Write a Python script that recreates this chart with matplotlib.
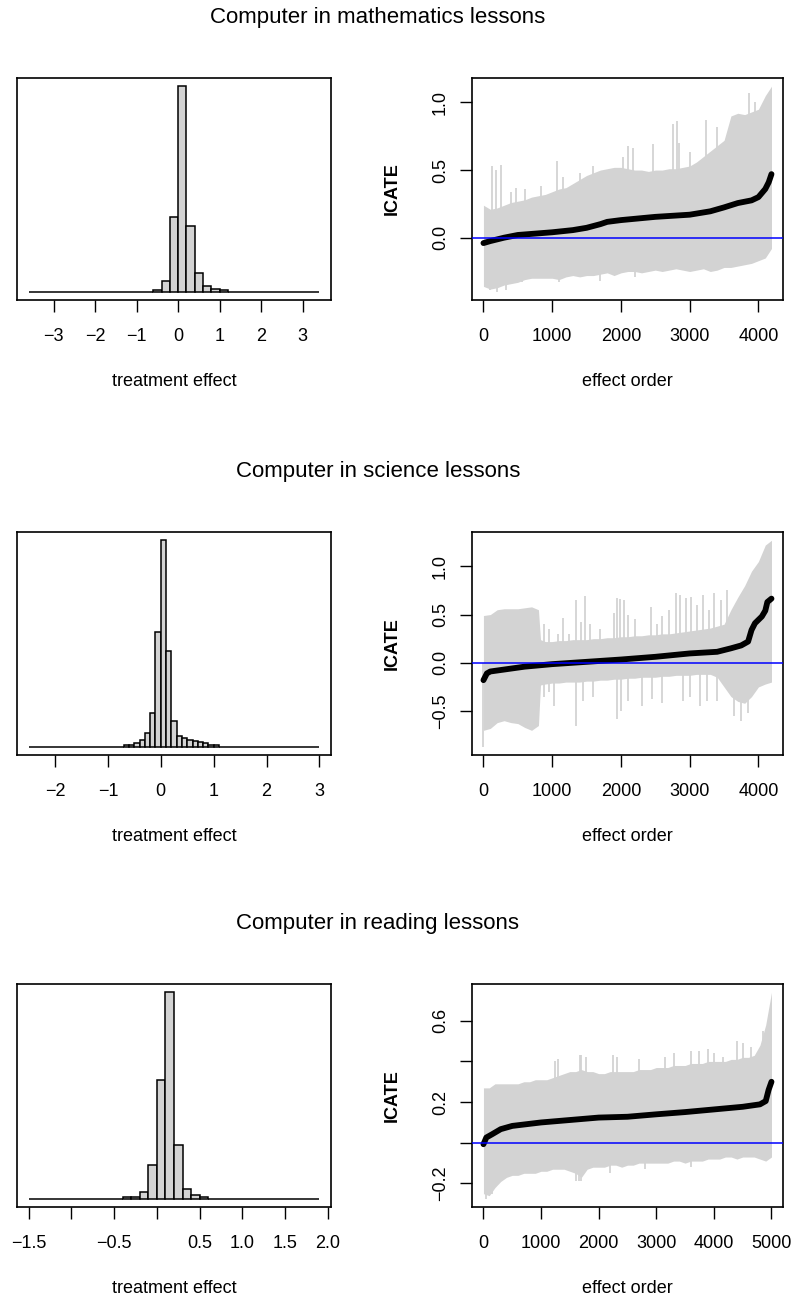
import numpy as np
import matplotlib
matplotlib.use("Agg")
import matplotlib.pyplot as plt

plt.rcParams['font.family'] = ['Liberation Sans', 'DejaVu Sans']
plt.rcParams['font.size'] = 13

GREY = '#d3d3d3'

titles = ['Computer in mathematics lessons',
          'Computer in science lessons',
          'Computer in reading lessons']

# ---- histograms of the treatment effects ----
math_breaks = np.round(np.arange(-3.6, 3.4001, 0.2), 2)
math_counts = [1, 0, 0, 0, 0, 0, 0, 0, 0, 0, 0, 0, 0, 0, 0,
               18, 118, 811, 2226, 711, 201, 65, 32, 18,
               0, 0, 0, 0, 0, 0, 0, 0, 0, 0, 1]

sci_breaks = np.round(np.arange(-2.5, 3.0001, 0.1), 2)
sci_counts = [1, 0, 0, 0, 0, 0, 0, 0, 0, 0, 0, 0, 0, 0, 0, 0, 0, 0,
              12, 12, 25, 50, 100, 252, 865, 1552, 720, 192, 82, 65, 52,
              42, 37, 25, 15, 12,
              0, 0, 0, 0, 0, 0, 0, 0, 0, 0, 0, 0, 0, 0, 0, 0, 0, 0, 1]

read_breaks = np.round(np.arange(-1.5, 1.9001, 0.1), 2)
read_counts = [1, 0, 0, 0, 0, 0, 0, 0, 0, 0, 0,
               19, 19, 80, 380, 1353, 2360, 619, 114, 38, 19,
               0, 0, 0, 0, 0, 0, 0, 0, 0, 0, 0, 0, 1]

math_xticks = [-3, -2, -1, 0, 1, 2, 3]
sci_xticks = [-2, -1, 0, 1, 2, 3]
read_xticks = [-1.5, -1.0, -0.5, 0.0, 0.5, 1.0, 1.5, 2.0]
read_xticklabels = ['-1.5', '', '-0.5', '', '0.5', '1.0', '1.5', '2.0']

# ---- sorted ICATE with interval bands ----
math_n = 4190
math_ord = [0, 100, 300, 500, 1000, 1300, 1500, 1700, 1800, 2000, 2500,
            3000, 3300, 3500, 3700, 3900, 4000, 4100, 4150, 4190]
math_icate = [-0.04, -0.025, 0.0, 0.02, 0.04, 0.056, 0.073, 0.10, 0.117,
              0.13, 0.154, 0.17, 0.195, 0.224, 0.256, 0.276, 0.30, 0.36,
              0.41, 0.47]
math_band_x = list(range(0, 4200, 100)) + [4190]
math_hi = [0.24, 0.21, 0.22, 0.24, 0.26, 0.27, 0.28, 0.30, 0.31, 0.32,
           0.34, 0.36, 0.37, 0.40, 0.43, 0.46, 0.48, 0.50, 0.51, 0.52,
           0.52, 0.51, 0.50, 0.50, 0.49, 0.50, 0.50, 0.51, 0.51, 0.52,
           0.53, 0.56, 0.60, 0.64, 0.68, 0.72, 0.90, 0.92, 0.91, 0.93,
           0.95, 1.05, 1.12]
math_lo = [-0.36, -0.38, -0.37, -0.35, -0.34, -0.33, -0.31, -0.30, -0.30,
           -0.30, -0.30, -0.31, -0.29, -0.28, -0.29, -0.28, -0.28, -0.27,
           -0.26, -0.28, -0.26, -0.25, -0.25, -0.26, -0.25, -0.24, -0.25,
           -0.24, -0.23, -0.24, -0.25, -0.24, -0.23, -0.25, -0.24, -0.22,
           -0.22, -0.21, -0.20, -0.19, -0.17, -0.15, -0.08]
math_up_x = [130, 180, 250, 400, 480, 600, 830, 1070, 1150, 1400, 1600,
             2030, 2100, 2180, 2470, 2760, 2820, 2850, 3000, 3240, 3400,
             3870, 3950]
math_up_y = [0.53, 0.50, 0.54, 0.34, 0.37, 0.36, 0.38, 0.57, 0.45, 0.48,
             0.53, 0.60, 0.68, 0.66, 0.69, 0.84, 0.86, 0.70, 0.63, 0.87,
             0.82, 1.07, 1.00]
math_dn_x = [100, 200, 330, 560, 1100, 1700, 2200]
math_dn_y = [-0.39, -0.40, -0.39, -0.33, -0.33, -0.32, -0.29]

sci_n = 4190
sci_ord = [0, 50, 100, 300, 600, 1000, 1500, 2000, 2500, 3000, 3400, 3600,
           3750, 3850, 3900, 3950, 4050, 4100, 4130, 4190]
sci_icate = [-0.18, -0.11, -0.09, -0.07, -0.04, -0.014, 0.01, 0.034, 0.062,
             0.097, 0.114, 0.15, 0.18, 0.22, 0.34, 0.41, 0.48, 0.54, 0.63,
             0.665]
sci_band_x = list(range(0, 900, 100)) + [830] + list(range(900, 4200, 100)) + [4190]
sci_band_x = sorted(sci_band_x)
sci_hi = [0.49, 0.50, 0.55, 0.56, 0.56, 0.56, 0.57, 0.58, 0.55, 0.24, 0.22,
          0.22, 0.23, 0.23, 0.24, 0.24, 0.24, 0.25, 0.25, 0.26, 0.26,
          0.27, 0.27, 0.28, 0.28, 0.29, 0.29, 0.30, 0.30, 0.31, 0.32,
          0.33, 0.34, 0.35, 0.36, 0.38, 0.40, 0.55, 0.68, 0.80, 0.95,
          1.05, 1.22, 1.27]
sci_lo = [-0.70, -0.68, -0.62, -0.60, -0.62, -0.63, -0.67, -0.70, -0.65,
          -0.23, -0.22, -0.21, -0.21, -0.20, -0.20, -0.20, -0.19, -0.19,
          -0.18, -0.18, -0.17, -0.17, -0.16, -0.16, -0.15, -0.15, -0.15,
          -0.14, -0.14, -0.13, -0.13, -0.13, -0.12, -0.12, -0.12, -0.15,
          -0.25, -0.35, -0.40, -0.42, -0.35, -0.25, -0.22, -0.20]
sci_up_x = [880, 950, 1080, 1160, 1250, 1350, 1420, 1480, 1550, 1700, 1900,
            1940, 1990, 2040, 2100, 2200, 2440, 2520, 2600, 2700, 2800,
            2860, 2950, 3020, 3100, 3200, 3280, 3350, 3450, 3550]
sci_up_y = [0.40, 0.35, 0.30, 0.46, 0.30, 0.65, 0.42, 0.69, 0.40, 0.35,
            0.52, 0.67, 0.66, 0.65, 0.50, 0.45, 0.58, 0.40, 0.48, 0.55,
            0.72, 0.70, 0.67, 0.68, 0.60, 0.70, 0.55, 0.72, 0.65, 0.75]
sci_dn_x = [0, 120, 230, 880, 960, 1020, 1350, 1450, 1600, 1950, 2000,
            2100, 2300, 2450, 2600, 2900, 3000, 3150, 3250, 3400, 3650,
            3750, 3850]
sci_dn_y = [-0.87, -0.55, -0.55, -0.35, -0.30, -0.45, -0.66, -0.40, -0.35,
            -0.58, -0.50, -0.40, -0.45, -0.38, -0.42, -0.40, -0.35, -0.45,
            -0.40, -0.40, -0.55, -0.60, -0.52]

read_n = 5000
read_ord = [0, 50, 150, 300, 500, 1000, 1500, 2000, 2500, 3000, 3500, 4000,
            4500, 4800, 4900, 4950, 5000]
read_icate = [-0.007, 0.026, 0.042, 0.067, 0.083, 0.10, 0.112, 0.124,
              0.128, 0.14, 0.151, 0.164, 0.177, 0.189, 0.205, 0.26, 0.30]
read_band_x = list(range(0, 5001, 100))
read_hi = [0.27, 0.27, 0.29, 0.29, 0.29, 0.29, 0.29, 0.30, 0.30, 0.31,
           0.31, 0.31, 0.32, 0.33, 0.34, 0.35, 0.35, 0.36, 0.35, 0.35,
           0.34, 0.34, 0.35, 0.35, 0.35, 0.35, 0.35, 0.36, 0.36, 0.36,
           0.37, 0.37, 0.37, 0.38, 0.38, 0.38, 0.39, 0.39, 0.39, 0.40,
           0.40, 0.40, 0.40, 0.41, 0.41, 0.42, 0.42, 0.43, 0.48, 0.58, 0.74]
read_lo = [-0.25, -0.26, -0.22, -0.19, -0.17, -0.16, -0.16, -0.15, -0.15,
           -0.15, -0.14, -0.14, -0.13, -0.13, -0.13, -0.14, -0.15, -0.17,
           -0.13, -0.12, -0.12, -0.12, -0.11, -0.11, -0.12, -0.11, -0.11,
           -0.10, -0.10, -0.10, -0.10, -0.10, -0.10, -0.09, -0.09, -0.10,
           -0.09, -0.09, -0.09, -0.08, -0.08, -0.08, -0.07, -0.07, -0.08,
           -0.07, -0.07, -0.07, -0.08, -0.09, -0.07]
read_up_x = [1250, 1300, 1680, 1700, 1780, 2250, 2320, 2700, 3150, 3300,
             3600, 3750, 3900, 4000, 4150, 4400, 4500, 4650, 4850]
read_up_y = [0.40, 0.41, 0.43, 0.43, 0.42, 0.43, 0.42, 0.41, 0.42, 0.44,
             0.45, 0.45, 0.46, 0.44, 0.42, 0.50, 0.49, 0.47, 0.55]
read_dn_x = [40, 150, 1600, 1650, 1700, 2200, 2800, 3600]
read_dn_y = [-0.275, -0.25, -0.19, -0.19, -0.19, -0.15, -0.13, -0.12]

fig = plt.figure(figsize=(7.92, 12.96), dpi=100)
W, H = 792.0, 1296.0


def px_axes(x0, y_top, w, h):
    return fig.add_axes([x0 / W, 1 - (y_top + h) / H, w / W, h / H])


def style(ax):
    for s in ax.spines.values():
        s.set_linewidth(1.2)
    ax.tick_params(direction='out', length=8.5, width=1.0, labelsize=13)
    ax.tick_params(axis='x', pad=12)
    ax.tick_params(axis='y', pad=8)


def hist_panel(ax, breaks, counts, xticks, xticklabels=None):
    breaks = np.asarray(breaks)
    ax.bar(breaks[:-1], counts, width=np.diff(breaks), align='edge',
           color=GREY, edgecolor='black', linewidth=1.1)
    rng = breaks[-1] - breaks[0]
    ax.set_xlim(breaks[0] - 0.04 * rng, breaks[-1] + 0.04 * rng)
    top = max(counts)
    ax.set_ylim(-0.04 * top, 1.04 * top)
    ax.set_yticks([])
    ax.set_xticks(xticks)
    if xticklabels is None:
        xticklabels = [f'{t:g}'.replace('-', '\u2212') for t in xticks]
    else:
        xticklabels = [t.replace('-', '\u2212') for t in xticklabels]
    ax.set_xticklabels(xticklabels)
    style(ax)
    ax.set_xlabel('treatment effect')
    ax.xaxis.set_label_coords(0.5, -0.365)
    ax.xaxis.label.set_va('center')


def icate_panel(ax, n, band_x, lo, hi, up_x, up_y, dn_x, dn_y,
                order, icate, yticks, yticklabels, xticks):
    ax.fill_between(band_x, lo, hi, color=GREY, lw=0)
    ax.vlines(up_x, 0, up_y, color=GREY, lw=1.3)
    ax.vlines(dn_x, dn_y, 0, color=GREY, lw=1.3)
    ax.plot(order, icate, color='black', lw=4.2, solid_capstyle='round',
            solid_joinstyle='round', zorder=3)
    ylo = min(min(lo), min(dn_y))
    yhi = max(max(hi), max(up_y))
    yr = yhi - ylo
    ax.set_ylim(ylo - 0.04 * yr, yhi + 0.04 * yr)
    ax.set_xlim(1 - 0.04 * (n - 1), n + 0.04 * (n - 1))
    ax.axhline(0, color='blue', lw=1.1, zorder=4)
    ax.set_yticks(yticks)
    ax.set_yticklabels([t.replace('-', '\u2212') for t in yticklabels],
                       rotation=90, va='center')
    ax.set_xticks(xticks)
    ax.set_xticklabels([str(t) for t in xticks])
    style(ax)
    ax.set_xlabel('effect order')
    ax.xaxis.set_label_coords(0.5, -0.365)
    ax.xaxis.label.set_va('center')
    ax.set_ylabel('ICATE', fontweight='bold')
    ax.yaxis.set_label_coords(-0.257, 0.5)
    ax.yaxis.label.set_va('center')


rows_top = [78, 532, 984]
title_y = [18, 471, 924]

for t, ty in zip(titles, title_y):
    fig.text(378 / W, 1 - ty / H, t, ha='center', va='center', fontsize=16)

ax = px_axes(17, rows_top[0], 314, 222)
hist_panel(ax, math_breaks, math_counts, math_xticks)
ax = px_axes(472, rows_top[0], 311, 222)
icate_panel(ax, math_n, math_band_x, math_lo, math_hi, math_up_x, math_up_y,
            math_dn_x, math_dn_y, math_ord, math_icate,
            [0.0, 0.5, 1.0], ['0.0', '0.5', '1.0'],
            [0, 1000, 2000, 3000, 4000])

ax = px_axes(17, rows_top[1], 314, 223)
hist_panel(ax, sci_breaks, sci_counts, sci_xticks)
ax = px_axes(472, rows_top[1], 311, 223)
icate_panel(ax, sci_n, sci_band_x, sci_lo, sci_hi, sci_up_x, sci_up_y,
            sci_dn_x, sci_dn_y, sci_ord, sci_icate,
            [-0.5, 0.0, 0.5, 1.0], ['-0.5', '0.0', '0.5', '1.0'],
            [0, 1000, 2000, 3000, 4000])

ax = px_axes(17, rows_top[2], 314, 223)
hist_panel(ax, read_breaks, read_counts, read_xticks, read_xticklabels)
ax = px_axes(472, rows_top[2], 311, 223)
icate_panel(ax, read_n, read_band_x, read_lo, read_hi, read_up_x, read_up_y,
            read_dn_x, read_dn_y, read_ord, read_icate,
            [-0.2, 0.0, 0.2, 0.4, 0.6], ['-0.2', '', '0.2', '', '0.6'],
            [0, 1000, 2000, 3000, 4000, 5000])

fig.savefig('out.png', dpi=100)
